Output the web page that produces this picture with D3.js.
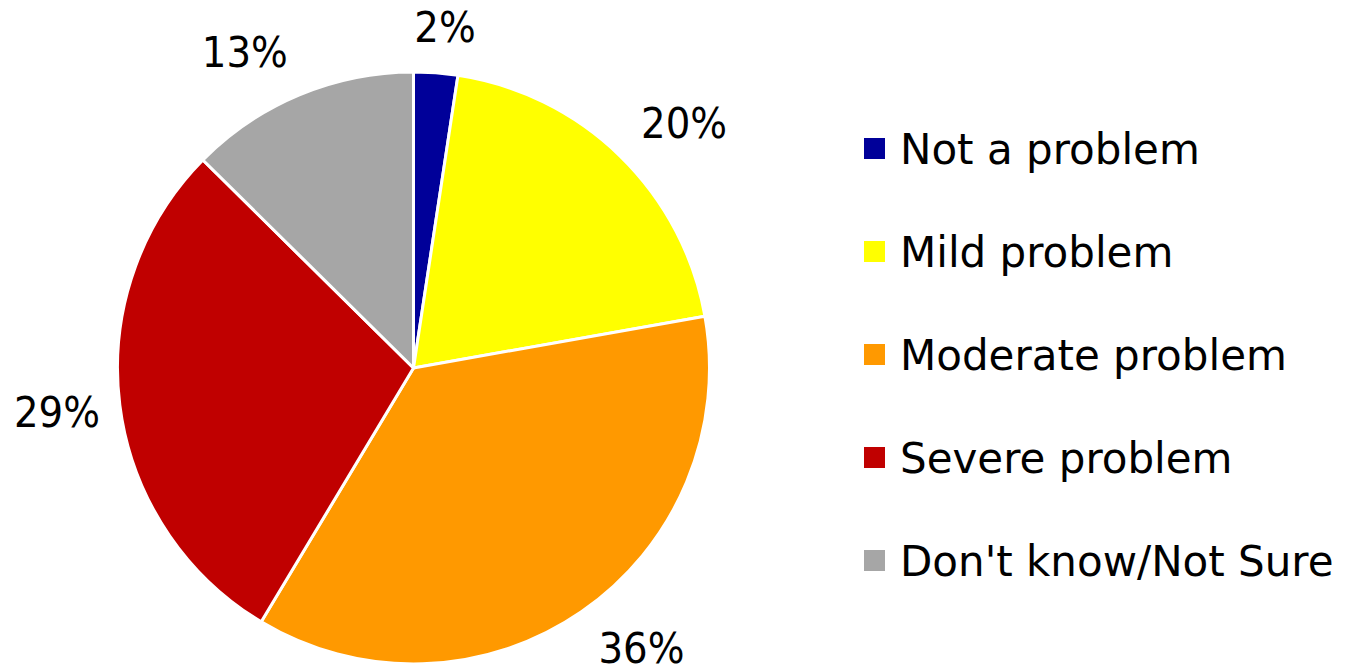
<!DOCTYPE html>
<html><head><meta charset="utf-8">
<script src="https://cdn.jsdelivr.net/npm/d3@7"></script>
<style>
html,body{margin:0;padding:0;background:#fff;}
text{fill:#000;}
</style></head>
<body>
<svg id="chart" width="1353" height="672"></svg>
<script>
const categories = ["Not a problem","Mild problem","Moderate problem","Severe problem","Don't know/Not Sure"];
const values = [2.4, 19.8, 36.4, 28.8, 12.6];
const labels = ["2%","20%","36%","29%","13%"];
const colors = ["#000099","#FFFF00","#FF9900","#C00000","#A6A6A6"];

const svg = d3.select("#chart");
const W = 1353, H = 672;
const cx = 413.5, cy = 368, R = 296;

const data = categories.map((c,i)=>({name:c, value:values[i], label:labels[i], color:colors[i]}));
const pie = d3.pie().value(d=>d.value).sort(null);
const arc = d3.arc().innerRadius(0).outerRadius(R);
const arcs = pie(data);

const g = svg.append("g").attr("transform",`translate(${cx},${cy})`);
g.selectAll("path").data(arcs).join("path")
  .attr("d",arc).attr("fill",d=>d.data.color)
  .attr("stroke","#fff").attr("stroke-width",3).attr("stroke-linejoin","round");

// labels outside end
const lblSize = 43;
const lg = g.selectAll("text.lbl").data(arcs).join("text")
  .attr("class","lbl").attr("text-anchor","middle")
  .style("font-family",'"DejaVu Sans Condensed","DejaVu Sans",sans-serif')
  .style("font-size",lblSize+"px")
  .text(d=>d.data.label);
lg.each(function(d){
  const a = (d.startAngle+d.endAngle)/2;
  const ux = Math.sin(a), uy = -Math.cos(a);
  const w = this.getComputedTextLength(), h = lblSize*0.8;
  let x = (R+30)*ux + w/2*Math.max(-1,Math.min(1,ux*3));
  let y = (R+30)*uy + h/2*uy + lblSize*0.37; // baseline
  x = Math.max(x, -cx + w/2 + 14);
  y = Math.max(y, -cy + lblSize*0.75 + 10);
  y = Math.min(y, H - cy - lblSize*0.22);
  d3.select(this).attr("x",x).attr("y",y);
});

// legend
const legY = d3.scalePoint().domain(categories).range([164,576]);
const leg = svg.append("g");
const items = leg.selectAll("g").data(data).join("g")
  .attr("transform",d=>`translate(0,${legY(d.name)})`);
items.append("rect").attr("x",864).attr("y",-26).attr("width",21).attr("height",21).attr("fill",d=>d.color);
items.append("text").attr("x",900).attr("y",0)
  .style("font-family",'"DejaVu Sans",sans-serif')
  .style("font-size","42px").text(d=>d.name);
</script>
</body></html>
